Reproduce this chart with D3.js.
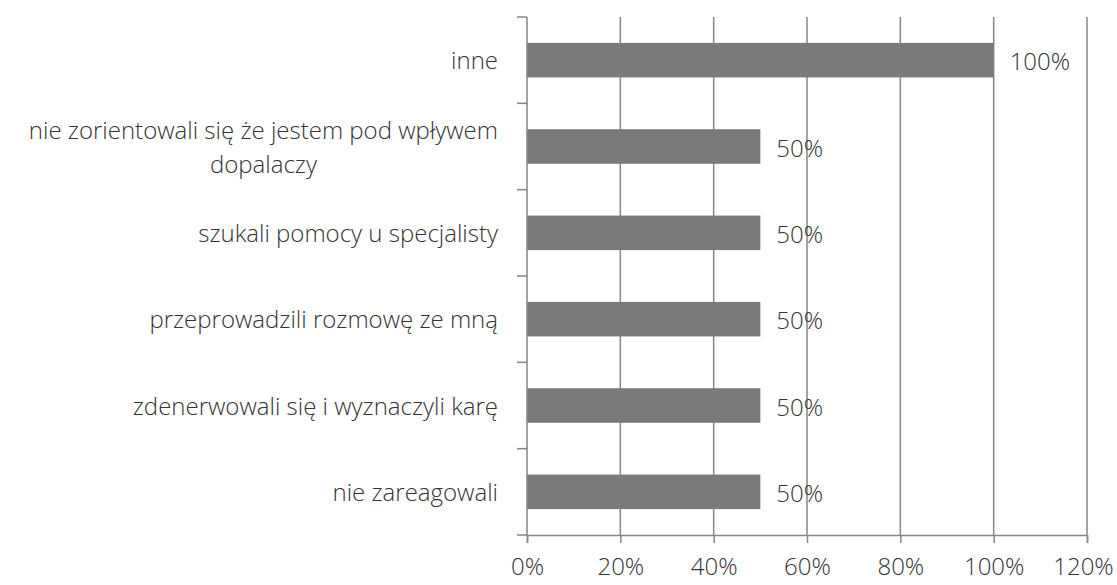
<!DOCTYPE html>
<html lang="pl">
<head>
<meta charset="UTF-8">
<title>Reakcje</title>
<script src="https://cdn.jsdelivr.net/npm/d3@7"></script>
<style>
  body { margin: 0; background: #fff; }
  text { font-family: "Open Sans", "Segoe UI", sans-serif; font-weight: 300; fill: #333; }
</style>
</head>
<body>
<svg id="chart" width="1117" height="585"></svg>
<script>
// categories, top to bottom
const categories = [
    ["inne"],
    ["nie zorientowali się że jestem pod wpływem", "dopalaczy"],
    ["szukali pomocy u specjalisty"],
    ["przeprowadzili rozmowę ze mną"],
    ["zdenerwowali się i wyznaczyli karę"],
    ["nie zareagowali"]
];
const values = [1.0, 0.5, 0.5, 0.5, 0.5, 0.5];
const xTicks = [0, 0.2, 0.4, 0.6, 0.8, 1.0, 1.2];

const svg = d3.select('#chart');
const plotLeft = 527, plotRight = 1087, plotTop = 17, plotBottom = 535;
const grey = '#868686';
const fontSize = '24px';

const x = d3.scaleLinear().domain([0, 1.2]).range([plotLeft, plotRight]);
const y = d3.scaleBand().domain(d3.range(categories.length)).range([plotTop, plotBottom]).paddingInner(0.6).paddingOuter(0.3);

// gridlines
svg.append('g').selectAll('line').data(xTicks.slice(1)).join('line')
    .attr('x1', d => x(d)).attr('x2', d => x(d))
    .attr('y1', plotTop).attr('y2', plotBottom)
    .attr('stroke', grey).attr('stroke-width', 1.5);

// bars
svg.append('g').selectAll('rect').data(values).join('rect')
    .attr('x', x(0))
    .attr('y', (d, i) => y(i))
    .attr('width', d => x(d) - x(0))
    .attr('height', y.bandwidth())
    .attr('fill', '#7a7a7a');

// y axis with ticks at category boundaries
const step = (plotBottom - plotTop) / categories.length;
const yAxis = svg.append('g');
yAxis.append('line').attr('x1', plotLeft).attr('x2', plotLeft).attr('y1', plotTop).attr('y2', plotBottom)
    .attr('stroke', grey).attr('stroke-width', 1.5);
yAxis.selectAll('line.tk').data(d3.range(categories.length + 1)).join('line').attr('class', 'tk')
    .attr('x1', plotLeft - 10).attr('x2', plotLeft)
    .attr('y1', i => plotTop + i * step).attr('y2', i => plotTop + i * step)
    .attr('stroke', grey).attr('stroke-width', 1.5);

// x axis
const xAxis = svg.append('g').attr('transform', `translate(0,${plotBottom})`)
    .call(d3.axisBottom(x).tickValues(xTicks).tickFormat(d3.format('.0%')).tickSize(8).tickPadding(15));
xAxis.select('.domain').attr('stroke', grey).attr('stroke-width', 1.5);
xAxis.selectAll('.tick line').attr('stroke', grey).attr('stroke-width', 1.5);
xAxis.selectAll('.tick text').style('font-size', fontSize).attr('fill', '#333');
xAxis.selectAll('.tick:last-of-type text').attr('dx', -4);

// category labels: block right-aligned, wrapped lines centred
const labelRight = 498;
svg.append('g').selectAll('text').data(categories).join('text')
    .style('font-size', fontSize)
    .attr('y', (d, i) => y(i) + y.bandwidth() / 2)
    .each(function (lines) {
        const t = d3.select(this);
        const lh = 34;
        const spans = lines.map((ln, k) => t.append('tspan')
            .attr('dy', k === 0 ? ((1 - lines.length) * lh / 2 + 9) : lh)
            .text(ln));
        const w = d3.max(spans, s => s.node().getComputedTextLength());
        t.attr('text-anchor', 'middle');
        spans.forEach(s => s.attr('x', labelRight - w / 2));
    });

// value labels
svg.append('g').selectAll('text').data(values).join('text')
    .attr('x', d => x(d) + 16)
    .attr('y', (d, i) => y(i) + y.bandwidth() / 2 + 10)
    .style('font-size', fontSize)
    .text(d => d3.format('.0%')(d));
</script>
</body>
</html>
